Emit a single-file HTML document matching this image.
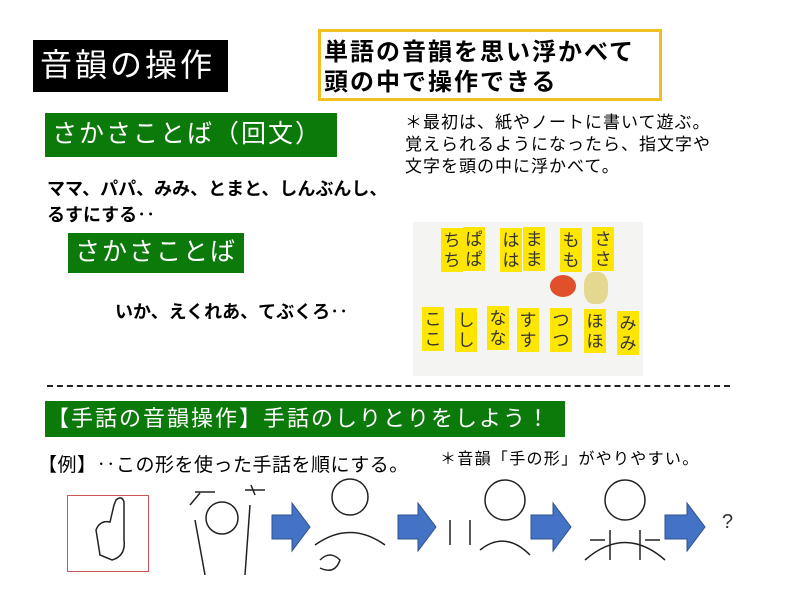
<!DOCTYPE html>
<html><head><meta charset="utf-8"><style>
body{margin:0;width:800px;height:600px;background:#fff;position:relative;overflow:hidden;font-family:"Liberation Sans","Noto Sans CJK JP",sans-serif;}
.a{position:absolute;white-space:nowrap;line-height:1;}
.g{background:#0b7a0b;color:#fff;}
.card{position:absolute;background:#ffe600;width:22px;font-size:17px;color:#333;text-align:center;line-height:20px;padding-top:3px;height:41px;}
</style></head><body>
<div class="a" style="left:33px;top:40px;width:195px;height:52px;background:#000;"></div>
<div class="a" style="left:40px;top:49px;color:#fff;font-size:32px;letter-spacing:3px;">音韻の操作</div>
<div class="a" style="left:318px;top:29px;width:338px;height:66px;border:3px solid #f0c020;"></div>
<div class="a" style="left:324px;top:38px;font-size:24px;font-weight:bold;letter-spacing:2px;line-height:30px;">単語の音韻を思い浮かべて<br>頭の中で操作できる</div>
<div class="a g" style="left:45px;top:113px;width:292px;height:44px;"></div>
<div class="a" style="left:52px;top:122px;color:#fff;font-size:25px;letter-spacing:2px;">さかさことば（回文）</div>
<div class="a" style="left:405px;top:112px;font-size:17px;letter-spacing:1px;line-height:22px;">＊最初は、紙やノートに書いて遊ぶ。<br>覚えられるようになったら、指文字や<br>文字を頭の中に浮かべて。</div>
<div class="a" style="left:47px;top:176px;font-size:18px;font-weight:bold;line-height:26px;">ママ、パパ、みみ、とまと、しんぶんし、<br>るすにする‥</div>
<div class="a g" style="left:68px;top:233px;width:176px;height:40px;"></div>
<div class="a" style="left:75px;top:240px;color:#fff;font-size:25px;letter-spacing:2px;">さかさことば</div>
<div class="a" style="left:115px;top:303px;font-size:18px;font-weight:bold;">いか、えくれあ、てぶくろ‥</div>
<div class="a" style="left:413px;top:222px;width:230px;height:154px;background:#f4f4f2;">
<div class="card" style="left:28px;top:6px;">ち<br>ち</div>
<div class="card" style="left:50px;top:5px;">ぱ<br>ぱ</div>
<div class="card" style="left:87px;top:6px;">は<br>は</div>
<div class="card" style="left:110px;top:5px;">ま<br>ま</div>
<div class="card" style="left:147px;top:6px;">も<br>も</div>
<div class="card" style="left:179px;top:5px;">さ<br>さ</div>
<div class="a" style="left:137px;top:53px;width:26px;height:22px;border-radius:50%;background:#e0502a;"></div>
<div class="a" style="left:171px;top:50px;width:24px;height:32px;background:#e4d890;border-radius:40%;"></div>
<div class="card" style="left:9px;top:85px;">こ<br>こ</div>
<div class="card" style="left:42px;top:86px;">し<br>し</div>
<div class="card" style="left:74px;top:84px;">な<br>な</div>
<div class="card" style="left:104px;top:86px;">す<br>す</div>
<div class="card" style="left:137px;top:86px;">つ<br>つ</div>
<div class="card" style="left:171px;top:87px;">ほ<br>ほ</div>
<div class="card" style="left:204px;top:89px;">み<br>み</div>
</div>
<div class="a" style="left:47px;top:385px;width:683px;border-top:2px dashed #222;"></div>
<div class="a g" style="left:45px;top:401px;width:520px;height:36px;"></div>
<div class="a" style="left:47px;top:408px;color:#fff;font-size:22px;letter-spacing:2px;">【手話の音韻操作】手話のしりとりをしよう！</div>
<div class="a" style="left:38px;top:456px;font-size:19px;letter-spacing:0.5px;">【例】‥この形を使った手話を順にする。</div>
<div class="a" style="left:440px;top:452px;font-size:16px;letter-spacing:1.3px;">＊音韻「手の形」がやりやすい。</div>
<div class="a" style="left:67px;top:495px;width:80px;height:75px;border:1px solid #c55;"></div>
<svg class="a" style="left:0;top:0" width="800" height="600" fill="none" stroke="#222" stroke-width="1.5">
<path d="M100 555 L96 530 Q100 520 110 522 L114 505 L116 500 Q122 495 124 502 L124 540 Q126 556 112 560 Z"/>
<circle cx="222" cy="518" r="16"/><path d="M195 520 L205 575 M250 505 L245 575 M190 505 l10 -12 M255 495 l-4 -10"/>
<path d="M195 492 h20 M245 490 h20"/>
<circle cx="350" cy="497" r="18"/><path d="M315 545 Q350 520 385 545 M320 560 q10 -10 20 0 q-5 15 -20 8"/>
<circle cx="505" cy="500" r="20"/><path d="M450 520 v25 M470 520 v25 M480 550 Q505 530 530 555"/>
<circle cx="625" cy="500" r="20"/><path d="M585 560 Q625 525 665 560 M610 530 v30 M640 530 v30 M590 540 h15 M660 540 h-15"/>
</svg>
<svg class="a" style="left:0;top:0" width="800" height="600" fill="#4472c4" stroke="#2f528f">
<path d="M272 515 h20 v-12 l18 24 l-18 24 v-12 h-20 z"/>
<path d="M398 515 h20 v-12 l18 24 l-18 24 v-12 h-20 z"/>
<path d="M531 515 h22 v-12 l18 24 l-18 24 v-12 h-22 z"/>
<path d="M665 515 h22 v-12 l18 24 l-18 24 v-12 h-22 z"/>
</svg>
<div class="a" style="left:722px;top:512px;font-size:20px;color:#333;">?</div>
</body></html>
